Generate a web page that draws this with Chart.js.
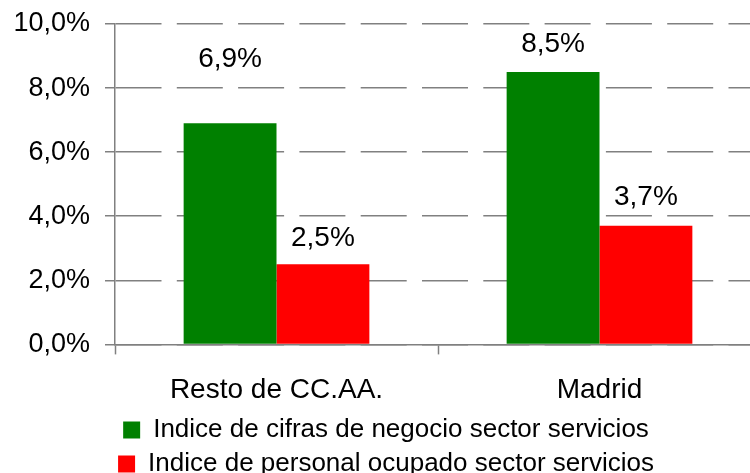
<!DOCTYPE html>
<html>
<head>
<meta charset="utf-8">
<script src="https://cdn.jsdelivr.net/npm/chart.js@4/dist/chart.umd.min.js"></script>
<style>
  body { margin: 0; overflow: hidden; background: #fff; }
  #wrap { position: absolute; left: 0; top: 0; width: 762px; height: 487px; }
</style>
</head>
<body>
<div id="wrap"><canvas id="chart"></canvas></div>
<script>
// Chart data.
const regions = ["Resto de CC.AA.", "Madrid"];
const seriesNames = [
  "Indice de cifras de negocio sector servicios",
  "Indice de personal ocupado sector servicios"
];
const negocio = [6.9, 8.5];
const personal = [2.5, 3.7];

const FONT = "'Liberation Sans', Arial, sans-serif";
const GRID = "#808080";

// how far above each bar top its label sits (dataset, then bar)
const labelLift = [[64, 28], [26, 29]];

function pct(v) {
  return v.toFixed(1).replace(".", ",") + "%";
}

const valueLabels = {
  id: "valueLabels",
  afterDatasetsDraw(chart) {
    let ctx = chart.ctx;
    ctx.save();
    ctx.font = "28px " + FONT;
    ctx.fillStyle = "#000";
    ctx.textAlign = "center";
    ctx.textBaseline = "middle";
    chart.data.datasets.forEach((ds, di) => {
      chart.getDatasetMeta(di).data.forEach((bar, i) => {
        ctx.fillText(pct(ds.data[i]), bar.x, bar.y - labelLift[di][i]);
      });
    });
    ctx.restore();
  }
};

new Chart(document.getElementById("chart"), {
  type: "bar",
  data: {
    labels: regions,
    datasets: [
      { label: seriesNames[0], data: negocio, backgroundColor: "#008000" },
      { label: seriesNames[1], data: personal, backgroundColor: "#ff0000" }
    ]
  },
  options: {
    responsive: true,
    maintainAspectRatio: false,
    animation: false,
    layout: { padding: { left: 11, top: 24, right: 1, bottom: 0 } },
    datasets: {
      bar: { barPercentage: 1, categoryPercentage: 0.575 }
    },
    scales: {
      x: {
        offset: true,
        grid: {
          offset: true,
          drawOnChartArea: false,
          tickLength: 10,
          tickColor: GRID,
          tickWidth: 1.5
        },
        border: { color: GRID, width: 1.5 },
        ticks: { color: "#000", font: { size: 28, family: FONT }, padding: 19 },
        afterFit: s => { s.height -= 17; }
      },
      y: {
        min: 0,
        max: 10,
        ticks: {
          stepSize: 2,
          color: "#000",
          font: { size: 27, family: FONT },
          padding: 15,
          callback: v => pct(v)
        },
        grid: {
          color: GRID,
          lineWidth: 1.5,
          tickLength: 10,
          tickColor: GRID,
          tickBorderDash: []
        },
        border: { color: GRID, width: 1.5, dash: [46, 15.3] },
        afterFit: s => {
          s.width = 104;
          s.paddingTop = 0;
          s.paddingBottom = 0;
        }
      }
    },
    plugins: {
      legend: {
        position: "bottom",
        labels: {
          boxWidth: 17,
          boxHeight: 17,
          padding: 8,
          color: "#000",
          font: { size: 26, family: FONT }
        }
      },
      tooltip: { enabled: false }
    }
  },
  plugins: [valueLabels]
});
</script>
</body>
</html>
